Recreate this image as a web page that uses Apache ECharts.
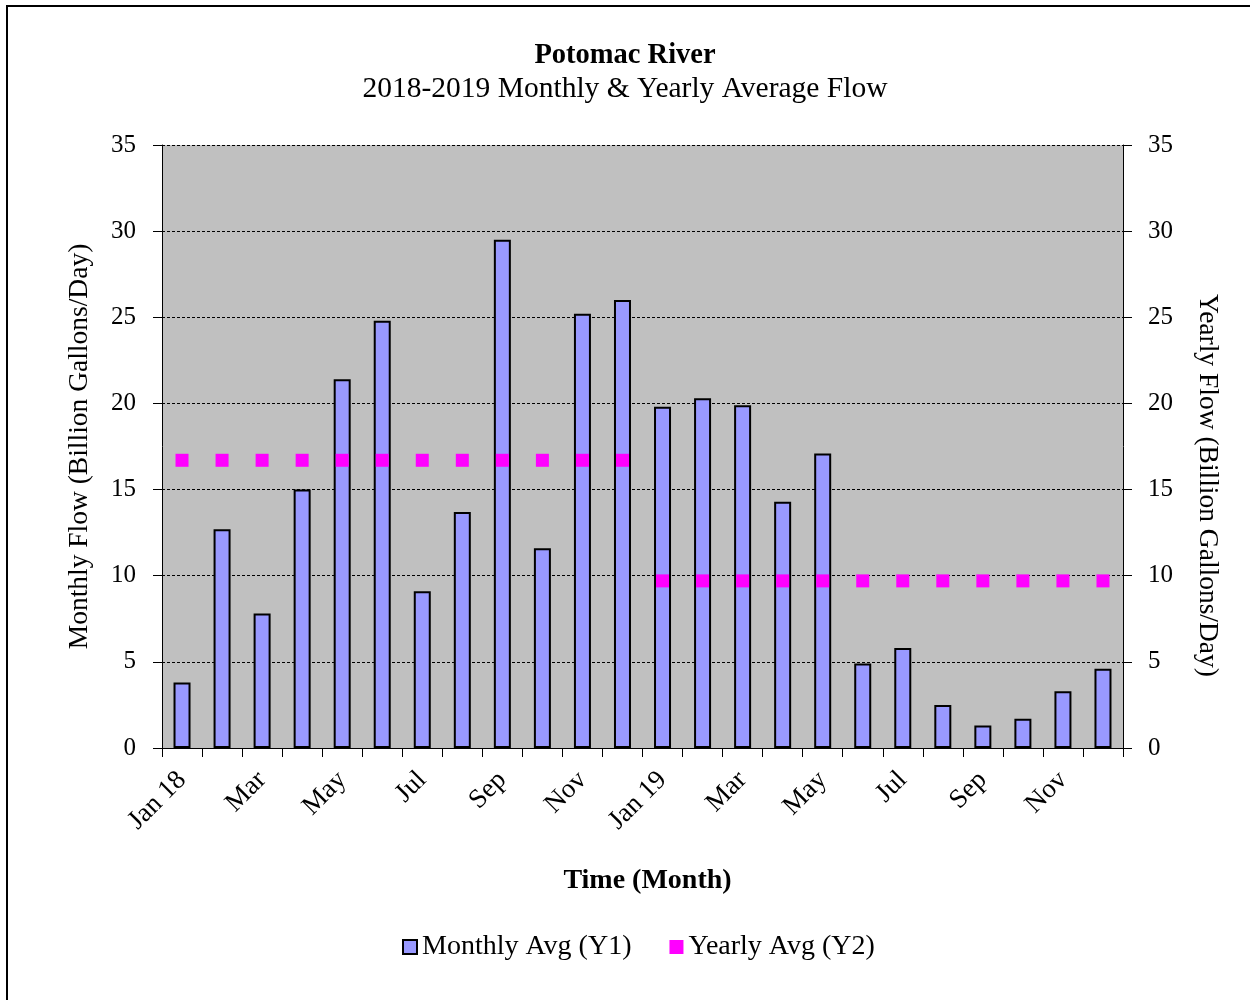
<!DOCTYPE html>
<html>
<head>
<meta charset="utf-8">
<script src="https://cdn.jsdelivr.net/npm/echarts@6/dist/echarts.min.js"></script>
<style>
html,body{margin:0;padding:0;background:#fff;}
#chart{width:1250px;height:1000px;}
</style>
</head>
<body>
<div id="chart"></div>
<script>
const months = ["Jan 18","Feb","Mar","Apr","May","Jun","Jul","Aug","Sep","Oct","Nov","Dec",
                "Jan 19","Feb","Mar","Apr","May","Jun","Jul","Aug","Sep","Oct","Nov","Dec"];
const monthlyAvg = [3.8,12.7,7.8,15.0,21.4,24.8,9.1,13.7,29.5,11.6,25.2,26.0,
                    19.8,20.3,19.9,14.3,17.1,4.9,5.8,2.5,1.3,1.7,3.3,4.6];
const yearlyAvg = [16.7,16.7,16.7,16.7,16.7,16.7,16.7,16.7,16.7,16.7,16.7,16.7,
                   9.7,9.7,9.7,9.7,9.7,9.7,9.7,9.7,9.7,9.7,9.7,9.7];
const yTicks = {min:0, max:35, interval:5};

const FONT = '"Liberation Serif", "Times New Roman", serif';
const chart = echarts.init(document.getElementById('chart'));
chart.setOption({
  animation:false,
  backgroundColor:'#ffffff',
  textStyle:{fontFamily:FONT, color:'#000'},
  title:{
    text:'Potomac River',
    subtext:'2018-2019 Monthly & Yearly Average Flow',
    left:'center', top:36, itemGap:4,
    textStyle:{fontFamily:FONT, fontSize:28.5, fontWeight:'bold', color:'#000'},
    subtextStyle:{fontFamily:FONT, fontSize:29.5, color:'#000'}
  },
  legend:{
    left:397, top:928,
    itemWidth:14, itemHeight:14, itemGap:38,
    textStyle:{fontFamily:FONT, fontSize:28, color:'#000'},
    data:[{name:'Monthly Avg (Y1)', icon:'rect'},{name:'Yearly Avg (Y2)', icon:'rect'}]
  },
  grid:{
    left:162, right:127, top:145, bottom:252,
    show:true, backgroundColor:'#C0C0C0', borderWidth:0
  },
  xAxis:{
    type:'category', data:months, boundaryGap:true,
    name:'Time (Month)', nameLocation:'middle', nameGap:119,
    nameTextStyle:{fontFamily:FONT, fontSize:28, fontWeight:'bold', color:'#000', padding:[0,0,0,10]},
    axisLine:{lineStyle:{color:'#000', width:1}},
    axisTick:{show:true, interval:0, alignWithLabel:false, length:9, lineStyle:{color:'#000'}},
    axisLabel:{interval:1, rotate:45, margin:28,
               fontFamily:FONT, fontSize:27, color:'#000'},
    splitLine:{show:false}
  },
  yAxis:[{
    type:'value', min:yTicks.min, max:yTicks.max, interval:yTicks.interval, position:'left',
    name:'Monthly Flow (Billion Gallons/Day)', nameLocation:'middle', nameGap:68,
    nameTextStyle:{fontFamily:FONT, fontSize:27.5, color:'#000'},
    axisLine:{show:true, lineStyle:{color:'#000', width:1}},
    axisTick:{show:true, length:9, lineStyle:{color:'#000'}},
    axisLabel:{margin:26, fontFamily:FONT, fontSize:25, color:'#000'},
    splitLine:{show:true, lineStyle:{color:'#000', type:[3,2], width:1}}
  },{
    type:'value', min:yTicks.min, max:yTicks.max, interval:yTicks.interval, position:'right',
    name:'Yearly Flow (Billion Gallons/Day)', nameLocation:'middle', nameGap:70, nameRotate:-90,
    nameTextStyle:{fontFamily:FONT, fontSize:27.5, color:'#000', padding:[0,0,0,78]},
    axisLine:{show:true, lineStyle:{color:'#000', width:1}},
    axisTick:{show:true, length:9, lineStyle:{color:'#000'}},
    axisLabel:{margin:25, fontFamily:FONT, fontSize:25, color:'#000'},
    splitLine:{show:false}
  }],
  series:[{
    name:'Monthly Avg (Y1)', type:'bar', yAxisIndex:0, data:monthlyAvg,
    barWidth:17,
    itemStyle:{color:'#9999FF', borderColor:'#000', borderWidth:2}
  },{
    name:'Yearly Avg (Y2)', type:'scatter', yAxisIndex:1, data:yearlyAvg,
    symbol:'rect', symbolSize:13,
    itemStyle:{color:'#FF00FF', opacity:1}, z:5
  }],
  graphic:[{
    type:'rect', silent:true,
    shape:{x:7, y:6, width:1300, height:1100},
    style:{fill:'none', stroke:'#000', lineWidth:2}
  }]
});
</script>
</body>
</html>
